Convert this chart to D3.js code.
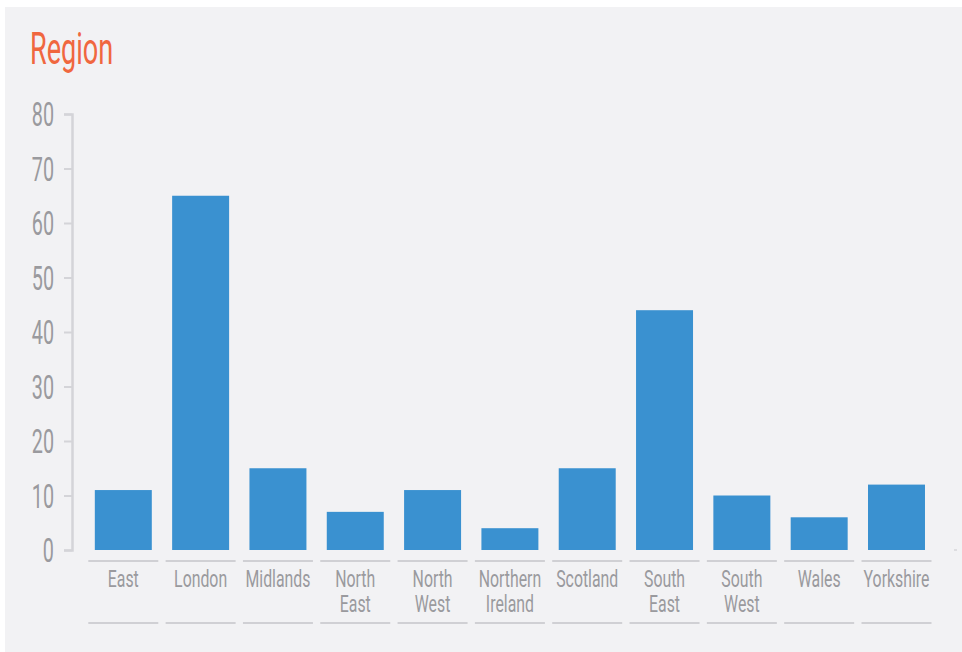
<!DOCTYPE html>
<html><head><meta charset="utf-8">
<script src="https://cdn.jsdelivr.net/npm/d3@7"></script>
<style>
body{margin:0;background:#fff;}
text{font-family:Roboto,"DejaVu Sans",sans-serif;}
</style></head>
<body><svg id="c" width="962" height="652"></svg>
<script>
const categories = ["East","London","Midlands","North East","North West","Northern Ireland","Scotland","South East","South West","Wales","Yorkshire"];
const values = [11,65,15,7,11,4,15,44,10,6,12];
const yTicks = [0,10,20,30,40,50,60,70,80];
const title = "Region";

const SX = 0.615;
const svg = d3.select("#c");
svg.append("rect").attr("x",5).attr("y",7).attr("width",957).attr("height",645).attr("fill","#f2f2f4");
svg.append("text").attr("transform",`translate(30,64) scale(${SX},1)`).attr("fill","#f0673f")
  .attr("font-size",44).attr("font-weight",400).text(title);

const x = d3.scaleBand().domain(categories).range([84.65,935.15]).paddingInner(0.263).paddingOuter(0.1315);
const y = d3.scaleLinear().domain([0,80]).range([550,114]);

// y axis
const ya = svg.append("g").attr("transform","translate(72,0)")
  .call(d3.axisLeft(y).tickValues(yTicks).tickSize(8).tickPadding(8));
ya.select(".domain").attr("stroke","#d4d4d8").attr("stroke-width",2.5);
ya.selectAll(".tick line").attr("stroke","#d4d4d8").attr("stroke-width",2);
ya.selectAll(".tick text").attr("x",0).attr("dy","0.35em")
  .attr("transform",`translate(-18,0) scale(0.6,1)`)
  .attr("fill","#9a9a9e").attr("font-size",33).attr("font-weight",400).attr("font-family",null);

// bars
svg.append("g").selectAll("rect").data(categories).join("rect")
  .attr("x",d=>x(d)).attr("width",x.bandwidth())
  .attr("y",(d,i)=>y(values[i])).attr("height",(d,i)=>y(0)-y(values[i]))
  .attr("fill","#3a91d0");

// x labels with underlines
const g = svg.append("g").selectAll("g").data(categories).join("g")
  .attr("transform",d=>`translate(${x(d)+x.bandwidth()/2},0)`);
g.append("line").attr("x1",-35).attr("x2",35).attr("y1",561).attr("y2",561).attr("stroke","#d0d0d4").attr("stroke-width",2);
g.append("line").attr("x1",-35).attr("x2",35).attr("y1",623).attr("y2",623).attr("stroke","#d0d0d4").attr("stroke-width",2);
g.each(function(d){
  const words = d.split(" ");
  const t = d3.select(this).append("text").attr("text-anchor","middle").attr("fill","#9a9a9e")
    .attr("font-size",24).attr("font-weight",400).attr("transform",`scale(0.66,1)`);
  words.forEach((w,i)=>t.append("tspan").attr("x",0).attr("y",587+i*25.5).text(w));
});
svg.append("line").attr("x1",954).attr("x2",957).attr("y1",550).attr("y2",550).attr("stroke","#c8c8cc").attr("stroke-width",1);
</script></body></html>
